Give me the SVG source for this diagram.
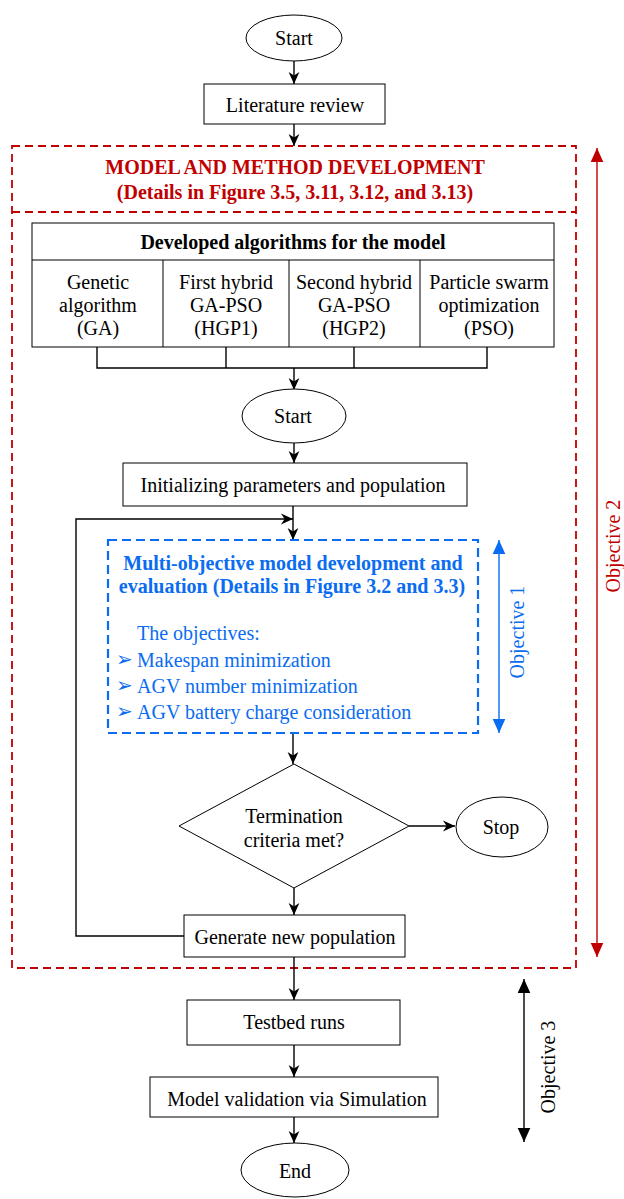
<svg xmlns="http://www.w3.org/2000/svg" width="624" height="1199" viewBox="0 0 624 1199">
<style>
text{font-family:"Liberation Serif","Times New Roman",serif;font-size:20px;fill:#000;text-anchor:middle}
.b{font-weight:bold}
.red{fill:#C00000}
.blue{fill:#0A6CF0}
.st{fill:#fff;stroke:#000;stroke-width:1}
.ln{fill:none;stroke:#000;stroke-width:1.4}
.l{text-anchor:start}
</style>
<defs>
<marker id="ah" viewBox="0 0 10 10" refX="10" refY="5" markerWidth="12" markerHeight="12" markerUnits="userSpaceOnUse" orient="auto">
<path d="M0,0.5 L10,5 L0,9.5 L3,5 z" fill="#000"/>
</marker>
<marker id="tr" viewBox="0 0 10 10" refX="10" refY="5" markerWidth="14" markerHeight="14" markerUnits="userSpaceOnUse" orient="auto-start-reverse">
<path d="M0,0.5 L10,5 L0,9.5 z" fill="#C00000"/>
</marker>
<marker id="tb" viewBox="0 0 10 10" refX="10" refY="5" markerWidth="14" markerHeight="14" markerUnits="userSpaceOnUse" orient="auto-start-reverse">
<path d="M0,0.5 L10,5 L0,9.5 z" fill="#0A6CF0"/>
</marker>
<marker id="tk" viewBox="0 0 10 10" refX="10" refY="5" markerWidth="14" markerHeight="14" markerUnits="userSpaceOnUse" orient="auto-start-reverse">
<path d="M0,0.5 L10,5 L0,9.5 z" fill="#000"/>
</marker>
</defs>

<g id="model-frame">
<rect x="12" y="146" width="564" height="822" fill="none" stroke="#C00000" stroke-width="1.8" stroke-dasharray="8,5"/>
<line x1="12" y1="212" x2="576" y2="212" stroke="#C00000" stroke-width="1.8" stroke-dasharray="8,5"/>
<text x="295" y="174" class="b red" font-size="21">MODEL AND METHOD DEVELOPMENT</text>
<text x="295" y="199" class="b red">(Details in Figure 3.5, 3.11, 3.12, and 3.13)</text>
</g>

<g id="connectors">
<line class="ln" x1="294" y1="60" x2="294" y2="84" marker-end="url(#ah)"/>
<line class="ln" x1="294" y1="124" x2="294" y2="146" marker-end="url(#ah)"/>
<polyline class="ln" points="97,347 97,368 487,368 487,347"/>
<line class="ln" x1="226" y1="347" x2="226" y2="368"/>
<line class="ln" x1="354" y1="347" x2="354" y2="368"/>
<line class="ln" x1="294" y1="368" x2="294" y2="390" marker-end="url(#ah)"/>
<line class="ln" x1="294" y1="443" x2="294" y2="463" marker-end="url(#ah)"/>
<line class="ln" x1="293" y1="506" x2="293" y2="540" marker-end="url(#ah)"/>
<polyline class="ln" points="184,936 76,936 76,519 293,519" marker-end="url(#ah)"/>
<line class="ln" x1="293" y1="733" x2="293" y2="764" marker-end="url(#ah)"/>
<line class="ln" x1="409" y1="826" x2="455" y2="826" marker-end="url(#ah)"/>
<line class="ln" x1="294" y1="888" x2="294" y2="915" marker-end="url(#ah)"/>
<line class="ln" x1="294" y1="957" x2="294" y2="1000" marker-end="url(#ah)"/>
<line class="ln" x1="294" y1="1045" x2="294" y2="1077" marker-end="url(#ah)"/>
<line class="ln" x1="294" y1="1117" x2="294" y2="1143" marker-end="url(#ah)"/>
</g>

<g id="objective2">
<line x1="597" y1="148" x2="597" y2="957" stroke="#C00000" stroke-width="1.4" marker-start="url(#tr)" marker-end="url(#tr)"/>
<text x="0" y="0" class="red" transform="translate(620,546) rotate(-90)">Objective 2</text>
</g>

<g id="start">
<ellipse class="st" cx="294" cy="38" rx="48" ry="23"/>
<text x="294" y="45">Start</text>
</g>

<g id="literature-review">
<rect class="st" x="204" y="84" width="181" height="40"/>
<text x="295" y="112">Literature review</text>
</g>

<g id="algorithms">
<rect class="st" x="32" y="223" width="522" height="124"/>
<line x1="32" y1="260" x2="554" y2="260" stroke="#000"/>
<line x1="163" y1="260" x2="163" y2="347" stroke="#000"/>
<line x1="289" y1="260" x2="289" y2="347" stroke="#000"/>
<line x1="420" y1="260" x2="420" y2="347" stroke="#000"/>
<text x="293" y="249" class="b">Developed algorithms for the model</text>
<text x="98" y="289">Genetic</text>
<text x="98" y="312">algorithm</text>
<text x="98" y="335">(GA)</text>
<text x="226" y="289">First hybrid</text>
<text x="226" y="312">GA-PSO</text>
<text x="226" y="335">(HGP1)</text>
<text x="354" y="289">Second hybrid</text>
<text x="354" y="312">GA-PSO</text>
<text x="354" y="335">(HGP2)</text>
<text x="489" y="289">Particle swarm</text>
<text x="489" y="312">optimization</text>
<text x="489" y="335">(PSO)</text>
</g>

<g id="start2">
<ellipse class="st" cx="294" cy="416" rx="52" ry="27"/>
<text x="293" y="423">Start</text>
</g>

<g id="initializing">
<rect class="st" x="123" y="463" width="344" height="43"/>
<text x="293" y="492">Initializing parameters and population</text>
</g>

<g id="multi-objective">
<rect x="108" y="540" width="370" height="193" fill="none" stroke="#0A6CF0" stroke-width="2.2" stroke-dasharray="9,5"/>
<text x="293" y="570" class="b blue">Multi-objective model development and</text>
<text x="292" y="593" class="b blue">evaluation (Details in Figure 3.2 and 3.3)</text>
<text x="137" y="640" class="blue l">The objectives:</text>
<text x="116" y="666" class="blue l" font-size="15">➢</text>
<text x="137" y="667" class="blue l">Makespan minimization</text>
<text x="116" y="692" class="blue l" font-size="15">➢</text>
<text x="137" y="693" class="blue l">AGV number minimization</text>
<text x="116" y="718" class="blue l" font-size="15">➢</text>
<text x="137" y="719" class="blue l">AGV battery charge consideration</text>
</g>

<g id="objective1">
<line x1="499" y1="540" x2="499" y2="733" stroke="#0A6CF0" stroke-width="1.4" marker-start="url(#tb)" marker-end="url(#tb)"/>
<text x="0" y="0" class="blue" transform="translate(524,632) rotate(-90)">Objective 1</text>
</g>

<g id="termination">
<polygon class="st" points="294,764 409,826 294,888 179,826"/>
<text x="294" y="823">Termination</text>
<text x="294" y="847">criteria met?</text>
</g>

<g id="stop">
<ellipse class="st" cx="502" cy="827" rx="46" ry="30"/>
<text x="501" y="834">Stop</text>
</g>

<g id="generate">
<rect class="st" x="184" y="915" width="221" height="42"/>
<text x="295" y="944">Generate new population</text>
</g>

<g id="testbed">
<rect class="st" x="187" y="1000" width="213" height="45"/>
<text x="294" y="1029">Testbed runs</text>
</g>

<g id="validation">
<rect class="st" x="150" y="1077" width="288" height="40"/>
<text x="297" y="1106">Model validation via Simulation</text>
</g>

<g id="end">
<ellipse class="st" cx="295" cy="1170" rx="54" ry="27"/>
<text x="295" y="1178">End</text>
</g>

<g id="objective3">
<line x1="524" y1="979" x2="524" y2="1142" stroke="#000" stroke-width="1.4" marker-start="url(#tk)" marker-end="url(#tk)"/>
<text x="0" y="0" transform="translate(555,1067) rotate(-90)">Objective 3</text>
</g>
</svg>
